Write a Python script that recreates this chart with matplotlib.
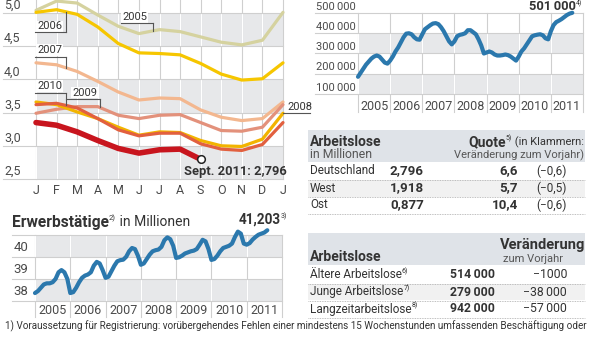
import numpy as np
import matplotlib
matplotlib.use("Agg")
import matplotlib.pyplot as plt

plt.rcParams['font.family'] = ['Roboto', 'DejaVu Sans']

# Arbeitslose je Monat (Mio), Januar bis Januar des Folgejahres
months = ['J', 'F', 'M', 'A', 'M', 'J', 'J', 'A', 'S', 'O', 'N', 'D', 'J']
rate_2005 = [5.04, 5.18, 5.15, 4.97, 4.80, 4.69, 4.75, 4.72, 4.64, 4.56, 4.52, 4.59, 5.01]
rate_2006 = [5.01, 5.05, 4.98, 4.79, 4.54, 4.40, 4.39, 4.37, 4.24, 4.08, 3.99, 4.01, 4.25]
rate_2007 = [4.25, 4.22, 4.12, 3.97, 3.81, 3.69, 3.72, 3.71, 3.54, 3.43, 3.38, 3.41, 3.66]
rate_2008 = [3.66, 3.62, 3.51, 3.41, 3.28, 3.16, 3.21, 3.20, 3.08, 3.00, 2.99, 3.10, 3.49]
rate_2009 = [3.49, 3.55, 3.59, 3.59, 3.46, 3.41, 3.46, 3.47, 3.35, 3.23, 3.22, 3.28, 3.62]
rate_2010 = [3.62, 3.64, 3.57, 3.41, 3.24, 3.15, 3.19, 3.19, 3.03, 2.95, 2.93, 3.02, 3.35]
rate_2011 = [3.35, 3.31, 3.21, 3.08, 2.96, 2.89, 2.94, 2.95, 2.796]
rate_ticks = [2.5, 3.0, 3.5, 4.0, 4.5, 5.0]

# gemeldete Stellenangebote (Tsd), Jan 2005 bis Sept 2011
vacancies = [185, 205, 225, 245, 260, 275, 285, 290, 285, 270, 255, 250,
             265, 285, 310, 330, 355, 380, 398, 400, 395, 380, 370, 368,
             395, 420, 430, 440, 448, 450, 445, 430, 410, 385, 360, 345,
             360, 385, 392, 395, 400, 415, 415, 405, 395, 370, 340, 300,
             305, 310, 305, 295, 290, 290, 292, 295, 292, 285, 275, 265,
             285, 310, 325, 345, 365, 385, 390, 393, 395, 390, 375, 370,
             410, 440, 455, 462, 470, 480, 490, 497, 501]
vac_ticks = [100000, 200000, 300000, 400000, 500000]

# Erwerbstätige (Mio), Jan 2005 bis Aug 2011
employed = [38.36, 38.45, 38.60, 38.75, 38.80, 38.80, 38.85, 39.00, 39.30, 39.40, 39.30, 39.00,
            38.36, 38.40, 38.60, 38.85, 39.05, 39.15, 39.20, 39.30, 39.60, 39.77, 39.70, 39.40,
            39.05, 39.10, 39.35, 39.60, 39.80, 39.85, 39.87, 40.00, 40.25, 40.40, 40.35, 40.05,
            39.64, 39.70, 39.90, 40.10, 40.25, 40.30, 40.33, 40.45, 40.75, 40.88, 40.80, 40.50,
            39.95, 39.98, 40.05, 40.15, 40.20, 40.25, 40.28, 40.35, 40.55, 40.77, 40.70, 40.35,
            39.86, 39.90, 40.05, 40.25, 40.40, 40.45, 40.50, 40.60, 40.90, 41.14, 41.05, 40.60,
            40.55, 40.62, 40.78, 40.90, 41.00, 41.05, 41.10, 41.203]
emp_ticks = [38, 39, 40, 41]
years = [2005, 2006, 2007, 2008, 2009, 2010, 2011]

# Tabelle Arbeitslose / Quote
regions = ['Deutschland', 'West', 'Ost']
region_total = ['2,796', '1,918', '0,877']
region_quote = ['6,6', '5,7', '10,4']
region_change = ['(\u22120,6)', '(\u22120,5)', '(\u22120,6)']

# Tabelle Gruppen
groups = ['Ältere Arbeitslose', 'Junge Arbeitslose', 'Langzeitarbeitslose']
group_notes = ['6)', '7)', '8)']
group_total = ['514\u2009000', '279\u2009000', '942\u2009000']
group_change = ['\u22121000', '\u221238\u2009000', '\u221257\u2009000']

footnote = ('1) Voraussetzung für Registrierung: vorübergehendes Fehlen einer mindestens '
            '15 Wochenstunden umfassenden Beschäftigung oder')

W, H = 600, 338
BAND = '#e7e8ea'
GRID = '#cfcfcf'
TXT = '#333333'
TICK = '#4a4a4a'
BLUE = '#2b78ad'
HEAD = '#dfe3e8'
FS_TICK = 9
FS_ROW = 8.5
FS_VAL = 9.6
FS_HEAD = 10
FS_SMALL = 8
FS_SUP = 5

fig = plt.figure(figsize=(6, 3.38), dpi=100)
fig.patch.set_facecolor('white')


def px_axes(x0, y0, x1, y1):
    ax = fig.add_axes([x0 / W, 1 - y1 / H, (x1 - x0) / W, (y1 - y0) / H])
    ax.axis('off')
    return ax


# overlay in pixel units for tables and headings
ov = fig.add_axes([0, 0, 1, 1])
ov.set_xlim(0, W)
ov.set_ylim(H, 0)
ov.axis('off')
renderer = fig.canvas.get_renderer()


def chain(x, y, parts, ha='left'):
    # parts: (text, size, weight, dy)
    items = []
    for s, size, weight, dy in parts:
        t = ov.text(0, y + dy, s, fontsize=size, fontweight=weight, color=TXT,
                    va='center', ha='left')
        items.append(t)
    widths = [t.get_window_extent(renderer).width for t in items]
    cx = x - sum(widths) if ha == 'right' else x
    for t, w in zip(items, widths):
        t.set_x(cx)
        cx += w


def bands_and_grid(ax, lows, height, xs, top, bottom):
    for lo in lows:
        ax.fill_between([xs[0], xs[-1]], lo, lo + height, color=BAND, lw=0, zorder=0)
    for xv in xs:
        ax.plot([xv, xv], [bottom, top], color=GRID, lw=0.8, zorder=0.5, clip_on=False)
        for lo in lows:
            ax.plot([xv, xv], [lo, lo + height], color='white', lw=0.8, zorder=0.6)


# ---------------- left: monthly unemployment per year ----------------
ax1 = px_axes(36, 0, 283, 179)
ax1.set_xlim(0, 12)
ax1.set_ylim(2.5, 5.196)
mx = np.arange(13)
bands_and_grid(ax1, [2.5, 3.5, 4.5], 0.5, mx, 5.196, 2.5)
for v in rate_ticks:
    ax1.plot([-1.6, 12], [v, v], color=GRID, lw=0.8, clip_on=False, zorder=0.7)
    ax1.text(-1.55, v + 0.015, f'{v:.1f}'.replace('.', ','), fontsize=9,
             color=TICK, va='bottom', ha='left', clip_on=False)
for i, m in enumerate(months):
    ax1.text(i, 2.334, m, fontsize=FS_TICK, color=TICK, ha='center', va='center')

series = [(rate_2005, '#d5d29f', 2.3), (rate_2006, '#f6c600', 2.3),
          (rate_2007, '#f3b78f', 2.3), (rate_2009, '#e3917b', 2.3),
          (rate_2008, '#f2b400', 2.3), (rate_2010, '#e2603f', 2.3),
          (rate_2011, '#c8151e', 4.0)]
for vals, col, lw in series:
    ax1.plot(np.arange(len(vals)), vals, color=col, lw=lw, clip_on=False,
             solid_capstyle='round', solid_joinstyle='round', zorder=2)
ax1.plot(8, rate_2011[-1], 'o', ms=5.5, mfc='white', mec='#222222', mew=1.1, zorder=3)
ax1.text(7.2, 2.62, 'Sept. 2011: 2,796', fontsize=9.3, fontweight='bold', color=TXT,
         ha='left', va='center', clip_on=False)


def tag(ax, label, tx, ty, u0, u1, uy, vx, vals):
    ax.text(tx, ty, label, fontsize=8, color=TXT, ha='left', va='center', zorder=4,
            bbox=dict(fc='white', ec='none', pad=0.6), clip_on=False)
    ax.plot([u0, u1], [uy, uy], color='#555555', lw=0.8, zorder=4, clip_on=False)
    if vx is not None:
        yc = np.interp(vx, np.arange(len(vals)), vals)
        ax.plot([vx, vx], [uy, yc], color='#555555', lw=0.8, zorder=4, clip_on=False)


tag(ax1, '2006', 0.05, 4.80, -0.05, 1.46, 4.715, 1.46, rate_2006)
tag(ax1, '2005', 4.18, 4.94, 4.13, 5.68, 4.85, 5.68, rate_2005)
tag(ax1, '2007', 0.05, 4.44, -0.05, 1.46, 4.34, 1.46, rate_2007)
tag(ax1, '2010', 0.05, 3.90, -0.05, 1.46, 3.80, 1.46, rate_2010)
tag(ax1, '2009', 1.75, 3.80, 1.46, 3.10, 3.705, 3.10, rate_2009)
tag(ax1, '2008', 12.2, 3.585, 12.0, 13.3, rate_2008[-1], None, rate_2008)

# ---------------- right top: job vacancies ----------------
ax2 = px_axes(358, 13, 583, 94)
ax2.set_xlim(2005, 2012)
ax2.set_ylim(100000, 500000)
yx = np.arange(2005, 2013)
bands_and_grid(ax2, [100000, 300000], 100000, yx, 500000, 11000)
for v in vac_ticks:
    ax2.plot([2003.66, 2012], [v, v], color=GRID, lw=0.8, clip_on=False, zorder=0.7)
    ax2.text(2003.7, v + 7000, f'{v:,}'.replace(',', '\u2009'), fontsize=8,
             color=TICK, va='bottom', ha='left', clip_on=False)
for y in years:
    ax2.text(y + 0.5, 36000, str(y), fontsize=FS_TICK, color=TICK, ha='center',
             va='center', clip_on=False)
vx_dates = 2005 + np.arange(len(vacancies)) / 12
ax2.plot(vx_dates, np.array(vacancies) * 1000, color=BLUE, lw=3.0, clip_on=False,
         solid_capstyle='round', solid_joinstyle='round', zorder=2)
chain(582, 6, [('501\u2009000', 9.3, 'bold', 0), ('4)', FS_SUP, 'normal', -3)], ha='right')

# ---------------- left bottom: Erwerbstätige ----------------
ax3 = px_axes(35, 227, 282, 301)
ax3.set_xlim(2005, 2012)
ax3.set_ylim(38, 41.35)
bands_and_grid(ax3, [38, 40], 1, yx, 41, 37.27)
for v in emp_ticks:
    ax3.plot([2004.35, 2012], [v, v], color=GRID, lw=0.8, clip_on=False, zorder=0.7)
    if v < 41:
        ax3.text(2004.4, v + 0.12, str(v), fontsize=9.5, color=TICK,
                 va='bottom', ha='left', clip_on=False)
for y in years:
    ax3.text(y + 0.5, 37.55, str(y), fontsize=FS_TICK, color=TICK, ha='center',
             va='center', clip_on=False)
ex_dates = 2005 + np.arange(len(employed)) / 12
ax3.plot(ex_dates, employed, color=BLUE, lw=3.0, clip_on=False,
         solid_capstyle='round', solid_joinstyle='round', zorder=2)
chain(12, 222, [('Erwerbstätige', 11.2, 'bold', 0), ('2)', FS_SUP + 0.5, 'normal', -4),
                (' in Millionen', 10, 'normal', 0)])
chain(287, 220, [('41,203', 9.8, 'bold', 0), ('3)', FS_SUP, 'normal', -4)], ha='right')

# ---------------- right middle: table Arbeitslose / Quote ----------------
ov.add_patch(plt.Rectangle((308, 130), 277, 32, color=HEAD, lw=0, zorder=0))
ov.add_patch(plt.Rectangle((308, 180), 277, 16.5, color='#f1f1f1', lw=0, zorder=0))
ov.text(310, 142, 'Arbeitslose', fontsize=FS_HEAD, fontweight='bold', color=TXT, va='center')
ov.text(310, 155, 'in Millionen', fontsize=FS_SMALL + 0.8, color='#555555', va='center')
chain(584, 142, [('Quote', FS_HEAD, 'bold', 0), ('5)', FS_SUP, 'normal', -4),
                 (' (in Klammern:', FS_SMALL, 'normal', 0)], ha='right')
ov.text(584, 155, 'Veränderung zum Vorjahr)', fontsize=FS_SMALL, color='#555555',
        va='center', ha='right')
for i, name in enumerate(regions):
    y = 171 + i * 17
    ov.text(310, y, name, fontsize=FS_ROW, color=TXT, va='center')
    ov.text(424, y, region_total[i], fontsize=FS_VAL, fontweight='bold', color=TXT,
            va='center', ha='right')
    ov.text(518, y, region_quote[i], fontsize=FS_VAL, fontweight='bold', color=TXT,
            va='center', ha='right')
    ov.text(567, y, region_change[i], fontsize=FS_ROW, color=TXT, va='center', ha='right')
    ov.plot([308, 585], [y + 8.5, y + 8.5], color='#aaaaaa', lw=0.6, ls=(0, (1, 1)))

# ---------------- right bottom: table Gruppen ----------------
ov.add_patch(plt.Rectangle((308, 233), 277, 32, color=HEAD, lw=0, zorder=0))
ov.add_patch(plt.Rectangle((308, 283.5), 277, 16.5, color='#f1f1f1', lw=0, zorder=0))
ov.text(310, 257, 'Arbeitslose', fontsize=FS_HEAD, fontweight='bold', color=TXT, va='center')
ov.text(585, 245, 'Veränderung', fontsize=FS_HEAD + 0.5, fontweight='bold', color=TXT,
        va='center', ha='right')
ov.text(503, 259, 'zum Vorjahr', fontsize=FS_SMALL, color='#555555', va='center')
for i, name in enumerate(groups):
    y = 275 + i * 17
    chain(310, y, [(name, FS_ROW, 'normal', 0), (group_notes[i], FS_SUP, 'normal', -4)])
    ov.text(495, y, group_total[i], fontsize=FS_ROW + 0.3, fontweight='bold', color=TXT,
            va='center', ha='right')
    ov.text(567, y, group_change[i], fontsize=FS_ROW + 0.3, color=TXT, va='center', ha='right')
    ov.plot([308, 585], [y + 8.5, y + 8.5], color='#aaaaaa', lw=0.6, ls=(0, (1, 1)))

# footnote, stretched across the full width
fn = ov.text(5, 326, footnote, fontsize=6, color=TXT, va='center', ha='left')
fw = fn.get_window_extent(renderer).width
fn.set_fontsize(6 * 590 / fw)

fig.savefig('out.png', dpi=100, facecolor='white')
